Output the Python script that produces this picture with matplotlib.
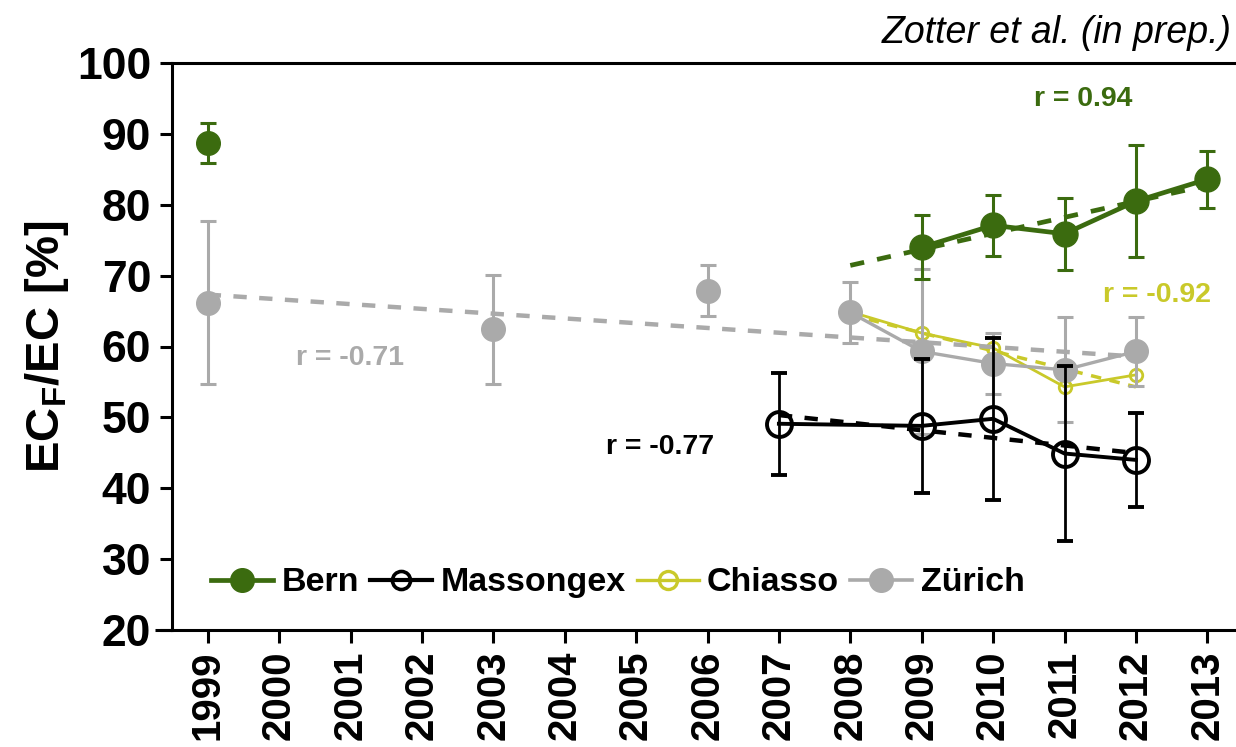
import numpy as np
import matplotlib
matplotlib.use("Agg")
import matplotlib.pyplot as plt
from matplotlib.lines import Line2D

plt.rcParams['font.family'] = ['Liberation Sans', 'DejaVu Sans']

# --- data ---
bern_years = [1999, 2009, 2010, 2011, 2012, 2013]
bern_vals = [88.7, 74.0, 77.1, 75.9, 80.5, 83.6]
bern_err = [2.8, 4.5, 4.3, 5.1, 7.9, 4.0]

mass_years = [2007, 2009, 2010, 2011, 2012]
mass_vals = [49.1, 48.8, 49.8, 44.9, 44.0]
mass_err = [7.2, 9.5, 11.4, 12.3, 6.6]

chia_years = [2008, 2009, 2010, 2011, 2012]
chia_vals = [64.9, 61.9, 59.8, 54.3, 56.0]

zur_years = [1999, 2003, 2006, 2008, 2009, 2010, 2011, 2012]
zur_vals = [66.2, 62.4, 67.9, 64.8, 59.3, 57.6, 56.7, 59.3]
zur_err = [11.5, 7.7, 3.6, 4.3, 11.7, 4.3, 7.4, 4.9]

year_ticks = list(range(1999, 2014))

GREEN = "#3b6b0f"
BLACK = "#000000"
YELLOW = "#c9c92a"
GRAY = "#aaaaaa"


def trend(x, y, x0, x1):
    """Least-squares line through the data, drawn between x0 and x1."""
    k, d = np.polyfit(x, y, 1)
    xs = np.array([x0, x1])
    return xs, k * xs + d


fig = plt.figure(figsize=(12.36, 7.47), dpi=100)
ax = fig.add_axes([172 / 1236, 117 / 747, (1236 - 172) / 1236, 567 / 747])

ekw = dict(capsize=6, elinewidth=2.2, capthick=2.2)

# Chiasso
ax.plot(chia_years, chia_vals, color=YELLOW, lw=2.0, marker='o', ms=9,
        mfc='none', mec=YELLOW, mew=2.0, zorder=3)
tx, ty = trend(chia_years, chia_vals, 2008, 2012)
ax.plot(tx, ty, color=YELLOW, lw=2.5, ls=(0, (3, 2.5)), zorder=3)

# Zürich: early years as single points, line only from 2008 on
ax.errorbar(zur_years[:3], zur_vals[:3], yerr=zur_err[:3], color=GRAY,
            ls='none', marker='o', ms=17, zorder=4, **ekw)
ax.errorbar(zur_years[3:], zur_vals[3:], yerr=zur_err[3:], color=GRAY,
            lw=2.4, marker='o', ms=17, zorder=4, **ekw)
tx, ty = trend(zur_years, zur_vals, 1999, 2012)
ax.plot(tx, ty, color=GRAY, lw=3.2, ls=(0, (3, 2.8)), zorder=4)

# Massongex
ax.errorbar(mass_years, mass_vals, yerr=mass_err, color=BLACK, lw=2.8,
            marker='o', ms=18, mfc='none', mew=2.8, capsize=6,
            elinewidth=2.0, capthick=2.0, zorder=5)
tx, ty = trend(mass_years, mass_vals, 2007, 2012)
ax.plot(tx, ty, color=BLACK, lw=3.2, ls=(0, (3, 2.8)), zorder=5)

# Bern (1999 point stands alone)
ax.errorbar(bern_years[:1], bern_vals[:1], yerr=bern_err[:1], color=GREEN,
            ls='none', marker='o', ms=17, zorder=6, **ekw)
ax.errorbar(bern_years[1:], bern_vals[1:], yerr=bern_err[1:], color=GREEN,
            lw=3.4, marker='o', ms=18, zorder=6, **ekw)
tx, ty = trend(bern_years[1:], bern_vals[1:], 2008, 2013)
ax.plot(tx, ty, color=GREEN, lw=3.4, ls=(0, (3, 2.8)), zorder=6)

# correlation labels
rkw = dict(fontsize=20.5, fontweight='bold', ha='center', va='center')
ax.text(2011.26, 94.9, "r = 0.94", color=GREEN, **rkw)
ax.text(2012.3, 67.2, "r = -0.92", color=YELLOW, **rkw)
ax.text(2001.0, 58.4, "r = -0.71", color=GRAY, **rkw)
ax.text(2005.33, 45.8, "r = -0.77", color=BLACK, **rkw)

fig.text(1232 / 1236, 1 - 33 / 747, "Zotter et al. (in prep.)",
         fontsize=27, style='italic', ha='right', va='center')

# axes styling
ax.set_xlim(1998.5, 1998.5 + (1236 - 172) / 71.4)
ax.set_ylim(20, 100)
ax.set_yticks(range(20, 101, 10))
ax.set_xticks(year_ticks)
ax.set_xticklabels([str(y) for y in year_ticks], rotation=90)
for lab in ax.get_yticklabels():
    lab.set_fontweight('bold')
    lab.set_fontsize(32)
for lab in ax.get_xticklabels():
    lab.set_fontweight('bold')
    lab.set_fontsize(29)
ax.tick_params(direction='out', length=9, width=2.2, pad=6)
ax.spines['right'].set_visible(False)
for s in ['left', 'bottom', 'top']:
    ax.spines[s].set_linewidth(2.2)
# x axis line runs a little past the y axis, as in the original
ax.plot([-0.016, 0], [0, 0], transform=ax.transAxes, color='black',
        lw=2.2, clip_on=False, solid_capstyle='butt')

ax.set_ylabel("EC$_\\mathregular{F}$/EC [%]", fontsize=34, fontweight='bold',
              labelpad=4)

handles = [
    Line2D([], [], color=GREEN, lw=3.4, marker='o', ms=17),
    Line2D([], [], color=BLACK, lw=3.0, marker='o', ms=13, mfc='none', mew=2.6),
    Line2D([], [], color=YELLOW, lw=2.4, marker='o', ms=13, mfc='none', mew=2.4),
    Line2D([], [], color=GRAY, lw=2.6, marker='o', ms=17),
]
labels = ['Bern', 'Massongex', 'Chiasso', 'Zürich']
ax.legend(handles, labels, loc='center left', bbox_to_anchor=(0.021, 0.083),
          ncol=4, frameon=False, borderpad=0, handlelength=1.82,
          handletextpad=0.25, columnspacing=0.32,
          prop={'weight': 'bold', 'size': 24.5})

fig.savefig("out.png", dpi=100)
